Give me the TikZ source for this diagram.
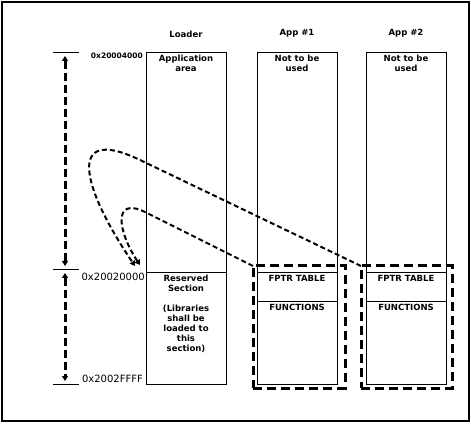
\documentclass[tikz,border=0pt]{standalone}
\usepackage{fontspec}
\setmainfont{DejaVu Sans}
\usetikzlibrary{positioning,arrows.meta}

\begin{document}
\begin{tikzpicture}[>={Triangle[length=5pt,width=6pt]},x=1pt,y=-1pt,
  sect/.style={draw,line width=0.9pt,minimum width=80pt,inner sep=0pt,outer sep=0pt,anchor=north},
  txt/.style={font=\bfseries\fontsize{8.5}{10}\selectfont,align=center,anchor=north,inner sep=0pt,yshift=-3pt},
  ttl/.style={font=\bfseries\fontsize{8.5}{10}\selectfont},
  addr/.style={font=\fontsize{10}{12}\selectfont,inner sep=1pt},
  grp/.style={draw,line width=3pt,dash pattern=on 9pt off 5pt,inner sep=0pt,outer sep=0pt,anchor=north west},
  flow/.style={->,line width=2pt,dash pattern=on 5pt off 3pt},
  span/.style={<->,line width=3pt,dash pattern=on 8pt off 4pt}]
  \useasboundingbox (0,0) rectangle (471,435);
  \draw[line width=2.2pt] (2,2) rectangle (469,421);
  % loader
  \node[sect,minimum height=220pt,label={[txt]north:Application\\area}] (ldrtop) at (186,52) {};
  \node[sect,minimum height=112pt,below=0pt of ldrtop,
    label={[txt]north:Reserved\\Section\\[10pt](Libraries\\shall be\\loaded to\\this\\section)}] (res) {};
  \node[ttl,above=11pt of ldrtop] (ldrttl) {Loader};
  % app #1
  \node[sect,minimum height=220pt,label={[txt]north:Not to be\\used}] (app1top) at (297,52) {};
  \node[sect,minimum height=29pt,below=0pt of app1top,label={[txt]north:FPTR TABLE}] (app1tbl) {};
  \node[sect,minimum height=83pt,below=0pt of app1tbl,label={[txt]north:FUNCTIONS}] (app1fn) {};
  \node[ttl,above=11pt of app1top] (app1ttl) {App \#1};
  % app #2
  \node[sect,minimum height=220pt,label={[txt]north:Not to be\\used}] (app2top) at (406,52) {};
  \node[sect,minimum height=29pt,below=0pt of app2top,label={[txt]north:FPTR TABLE}] (app2tbl) {};
  \node[sect,minimum height=83pt,below=0pt of app2tbl,label={[txt]north:FUNCTIONS}] (app2fn) {};
  \node[ttl,above=11pt of app2top] (app2ttl) {App \#2};
  % dashed groups round the libraries
  \node[grp,minimum width=92pt,minimum height=122pt] (grp1) at (253,266) {};
  \node[grp,minimum width=91pt,minimum height=122pt] (grp2) at (361,266) {};
  % addresses
  \node[addr,font=\bfseries\fontsize{7.5}{8}\selectfont,anchor=north east] (a0) at ([xshift=-2pt]ldrtop.north west) {0x20004000};
  \node[addr,anchor=north east] (a1) at (res.north west) {0x20020000};
  \node[addr,anchor=south east] (a2) at ([xshift=-2pt]res.south west) {0x2002FFFF};
  \coordinate (hi) at (53,52);
  \coordinate (mid) at (53,269);
  \coordinate (lo) at (53,384);
  \draw[line width=0.9pt] (hi) -- ++(26,0);
  \draw[line width=0.9pt] (mid) -- ++(26,0);
  \draw[line width=0.9pt] (lo) -- ++(26,0);
  \draw[span] ([xshift=12pt,yshift=-4pt]hi) -- ([xshift=12pt,yshift=3pt]mid);
  \draw[span] ([xshift=12pt,yshift=-4pt]mid) -- ([xshift=12pt,yshift=3pt]lo);
  % libraries loaded into the reserved section
  \coordinate (tip1) at (135,266);
  \coordinate (tip2) at (140,265);
  \draw[flow] (grp2.north west) -- (140,160) .. controls (65,124) and (82,188) .. (tip1);
  \draw[flow] (grp1.north west) -- (145,212) .. controls (112,196) and (118,232) .. (tip2);
\end{tikzpicture}
\end{document}
